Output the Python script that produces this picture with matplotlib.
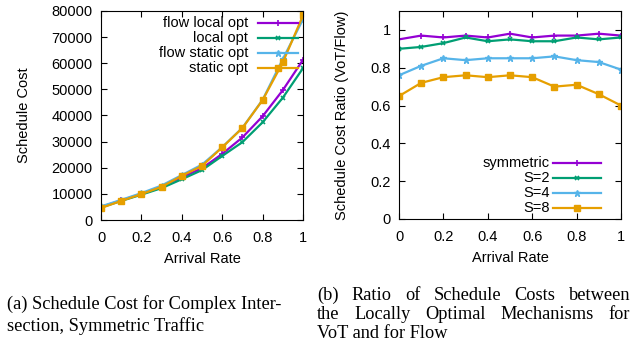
import matplotlib
matplotlib.use("Agg")
import matplotlib.pyplot as plt

plt.rcParams['font.family'] = ['Liberation Sans', 'DejaVu Sans']

rate = [0, 0.1, 0.2, 0.3, 0.4, 0.5, 0.6, 0.7, 0.8, 0.9, 1.0]

# (a) schedule cost
flow_local_opt = [5000, 7500, 10000, 12800, 16400, 19800, 25300, 31600, 39700, 49700, 61300]
local_opt = [4800, 7300, 9700, 12200, 15600, 19100, 24500, 29800, 37400, 46800, 58100]
flow_static_opt = [5200, 7700, 10300, 13200, 17200, 21200, 27900, 35300, 46000, 61600, 76800]
static_opt = [4600, 7300, 9900, 12700, 16900, 20700, 27800, 35200, 45900, 60300, 78300]

# (b) ratio VoT/Flow
symmetric = [0.95, 0.97, 0.96, 0.97, 0.96, 0.98, 0.96, 0.97, 0.97, 0.98, 0.97]
s2 = [0.90, 0.91, 0.93, 0.96, 0.94, 0.95, 0.94, 0.94, 0.96, 0.95, 0.96]
s4 = [0.76, 0.81, 0.85, 0.84, 0.85, 0.85, 0.85, 0.86, 0.84, 0.83, 0.79]
s8 = [0.65, 0.72, 0.75, 0.76, 0.75, 0.76, 0.75, 0.70, 0.71, 0.66, 0.60]

purple = '#9400d3'
green = '#009e73'
blue = '#56b4e9'
orange = '#e69f00'

fs = 10.5
W, H = 631, 347

fig = plt.figure(figsize=(6.31, 3.47), dpi=100)
box1 = (101, 11, 202, 209)   # left, top, width, height in pixels
box2 = (399, 11, 222, 208)
ax1 = fig.add_axes([box1[0] / W, 1 - (box1[1] + box1[3]) / H, box1[2] / W, box1[3] / H])
ax2 = fig.add_axes([box2[0] / W, 1 - (box2[1] + box2[3]) / H, box2[2] / W, box2[3] / H])

lw = 1.6
styles = [dict(color=purple, marker='+', ms=4, mew=1.2),
          dict(color=green, marker='x', ms=3.5, mew=1.2),
          dict(color=blue, marker='*', ms=5),
          dict(color=orange, marker='s', ms=5)]

series1 = [flow_local_opt, local_opt, flow_static_opt, static_opt]
labels1 = ['flow local opt', 'local opt', 'flow static opt', 'static opt']
for ys, st in zip(series1, styles):
    ax1.plot(rate, ys, lw=lw, **st)
ax1.set_xlim(0, 1)
ax1.set_ylim(0, 80000)
ax1.set_yticks(range(0, 80001, 10000))
ax1.set_ylabel('Schedule Cost', fontsize=fs)
ax1.set_xlabel('Arrival Rate', fontsize=fs)

series2 = [symmetric, s2, s4, s8]
labels2 = ['symmetric', 'S=2', 'S=4', 'S=8']
for ys, st in zip(series2, styles):
    ax2.plot(rate, ys, lw=lw, **st)
ax2.set_xlim(0, 1)
ax2.set_ylim(0, 1.1)
ax2.set_yticks([0, 0.2, 0.4, 0.6, 0.8, 1])
ax2.set_yticklabels(['0', '0.2', '0.4', '0.6', '0.8', '1'])
ax2.set_ylabel('Schedule Cost Ratio (VoT/Flow)', fontsize=fs)
ax2.set_xlabel('Arrival Rate', fontsize=fs)

for ax in (ax1, ax2):
    ax.set_xticks([0, 0.2, 0.4, 0.6, 0.8, 1])
    ax.set_xticklabels(['0', '0.2', '0.4', '0.6', '0.8', '1'])
    ax.tick_params(direction='in', top=True, right=True, labelsize=fs, length=4, pad=6)
    ax.tick_params(axis='x', pad=8)
    ax.xaxis.labelpad = 5
    ax.yaxis.labelpad = 15
    for sp in ax.spines.values():
        sp.set_linewidth(0.8)


# gnuplot style key: right-aligned text, sample line to the right
def key(ax, box, labels, text_x, line_x0, line_x1, rows):
    def fx(px):
        return (px - box[0]) / box[2]

    def fy(py):
        return 1 - (py - box[1]) / box[3]

    for lab, st, py in zip(labels, styles, rows):
        ax.text(fx(text_x), fy(py), lab, transform=ax.transAxes, ha='right', va='center',
                fontsize=fs)
        ax.plot([fx(line_x0), fx(line_x1)], [fy(py), fy(py)], transform=ax.transAxes,
                color=st['color'], lw=lw, clip_on=False)
        ax.plot([fx((line_x0 + line_x1) / 2)], [fy(py)], transform=ax.transAxes,
                linestyle='none', clip_on=False, **st)


key(ax1, box1, labels1, 248, 258, 298, [23, 38, 53, 68])
key(ax2, box2, labels2, 550, 553, 601, [163, 178, 193, 208])

cap = dict(family=['Liberation Serif', 'DejaVu Serif'], fontsize=13.2, va='baseline', ha='left')
fig.text(7 / W, 1 - 309 / H, '(a) Schedule Cost for Complex Inter-', **cap)
fig.text(7 / W, 1 - 331 / H, 'section, Symmetric Traffic', **cap)

# justified caption (b)
renderer = fig.canvas.get_renderer()
x_left, x_right = 317, 630
b_lines = [('(b) Ratio of Schedule Costs between', 300, True),
           ('the Locally Optimal Mechanisms for', 319, True),
           ('VoT and for Flow', 338, False)]
for line, base, justify in b_lines:
    if not justify:
        fig.text(x_left / W, 1 - base / H, line, **cap)
        continue
    words = line.split(' ')
    tws = []
    for wd in words:
        t = fig.text(0, 0, wd, **cap)
        tws.append(t.get_window_extent(renderer).width)
        t.remove()
    gap = (x_right - x_left - sum(tws)) / (len(words) - 1)
    x = x_left
    for wd, tw in zip(words, tws):
        fig.text(x / W, 1 - base / H, wd, **cap)
        x += tw + gap

fig.savefig('out.png', dpi=100)
